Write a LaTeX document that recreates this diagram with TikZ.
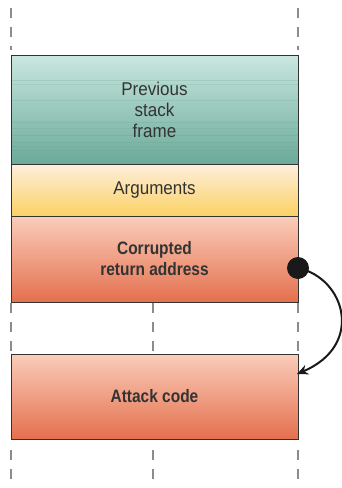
\documentclass[tikz,border=0pt]{standalone}
\usepackage{fontspec}
\setmainfont{Liberation Sans}
\newfontfamily\plainfont[FakeStretch=0.92]{Liberation Sans}
\newfontfamily\heavyfont[FakeStretch=0.86]{Liberation Sans Bold}
\usetikzlibrary{arrows.meta,calc}
\definecolor{txt}{HTML}{333333}
\definecolor{edge}{HTML}{333333}
\definecolor{tealtop}{HTML}{CAE7E0}
\definecolor{tealbot}{HTML}{6AAA98}
\definecolor{argtop}{HTML}{FEEEDD}
\definecolor{argbot}{HTML}{FBD163}
\definecolor{redtop}{HTML}{FACDBA}
\definecolor{redbot}{HTML}{E4704E}
\definecolor{dashgray}{HTML}{8C8C8C}
\tikzset{
  frame/.style={draw=edge, line width=1pt, minimum width=287pt, inner sep=0pt, outer sep=0pt,
                text=txt, align=center},
  plainlabel/.style={font=\fontsize{18.5}{21}\selectfont\plainfont},
  boldlabel/.style={font=\fontsize{18}{21}\selectfont\heavyfont},
  guide/.style={draw=dashgray, line width=1.8pt, dash pattern=on 10pt off 9pt},
}
\begin{document}
\begin{tikzpicture}[x=1pt,y=-1pt]
\useasboundingbox (0,0) rectangle (342,488);

% stack frames
\node[frame, minimum height=109pt, top color=tealtop, bottom color=tealbot]
  (prev) at (154.5,109.5) {};
% faint streaks across the previous frame
\begin{scope}
  \clip (prev.north west) rectangle (prev.south east);
  \foreach \yy/\op in {80/0.18,84/0.12,100/0.15,122/0.15,128/0.12,135/0.18,142/0.15,146/0.12,150/0.15}
    \draw[tealbot!80!black, opacity=\op, line width=0.6pt] (11,\yy) -- (298,\yy);
\end{scope}
\node[frame, minimum height=109pt, plainlabel] at (prev.center) {Previous\\stack\\frame};

\node[frame, minimum height=52pt, top color=argtop, bottom color=argbot, plainlabel]
  (args) at (154.5,190) {Arguments};
\node[frame, minimum height=86pt, top color=redtop, bottom color=redbot, boldlabel]
  (ret) at (154.5,259) {Corrupted\\return address};
\node[frame, minimum height=85pt, top color=redtop, bottom color=redbot, boldlabel]
  (attack) at (154.5,396.5) {Attack code};

% dashed guides above, between and below the frames
\draw[guide] (11,8) -- (11,50);
\draw[guide] (298,8) -- (298,50);
\foreach \xx in {11,153,298} {
  \draw[guide] (\xx,303) -- (\xx,353);
  \draw[guide] (\xx,450) -- (\xx,488);
}

% redirected return: dot on the return address, arrow into the attack code
\node[circle, fill=black!90, minimum size=22pt, inner sep=0pt] (dot) at (298,268) {};
\coordinate (tip) at (297,374);
\draw[line width=2pt, black!90, -{Stealth[length=11pt,width=10pt]}]
  (dot.center) .. controls (345,278) and (365,345) .. (tip);
\end{tikzpicture}
\end{document}
